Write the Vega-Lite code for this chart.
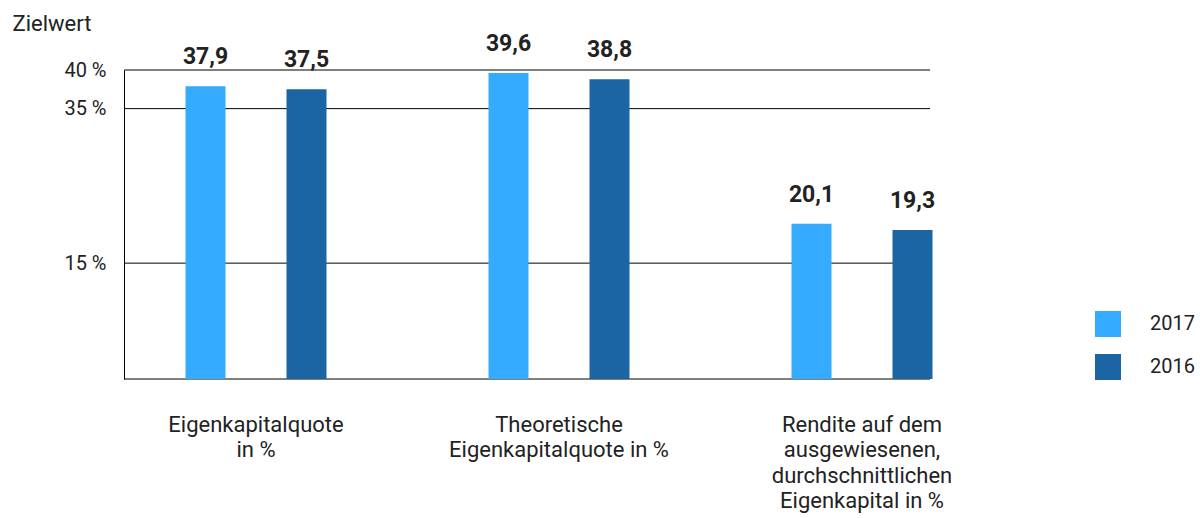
{
  "$schema": "https://vega.github.io/schema/vega-lite/v6.json",
  "width": 806,
  "height": 309,
  "autosize": "none",
  "padding": {"left": 124, "top": 70, "right": 270, "bottom": 139},
  "config": {
    "view": {"stroke": null},
    "font": "Roboto",
    "locale": {"number": {"decimal": ",", "thousands": ".", "grouping": [3], "currency": ["", " €"]}}
  },
  "datasets": {
    "werte": [
      {"kennzahl": "Eigenkapitalquote|in %", "jahr": "2017", "wert": 37.9},
      {"kennzahl": "Eigenkapitalquote|in %", "jahr": "2016", "wert": 37.5},
      {"kennzahl": "Theoretische|Eigenkapitalquote in %", "jahr": "2017", "wert": 39.6},
      {"kennzahl": "Theoretische|Eigenkapitalquote in %", "jahr": "2016", "wert": 38.8},
      {"kennzahl": "Rendite auf dem|ausgewiesenen,|durchschnittlichen|Eigenkapital in %", "jahr": "2017", "wert": 20.1},
      {"kennzahl": "Rendite auf dem|ausgewiesenen,|durchschnittlichen|Eigenkapital in %", "jahr": "2016", "wert": 19.3}
    ],
    "linien": [
      {"wert": 0},
      {"wert": 15},
      {"wert": 35},
      {"wert": 40}
    ]
  },
  "layer": [
    {
      "data": {"name": "linien"},
      "mark": {"type": "rule", "color": "#000000", "strokeWidth": 1},
      "encoding": {
        "y": {
          "field": "wert",
          "type": "quantitative",
          "scale": {"domain": [0, 40], "nice": false, "zero": true},
          "axis": {
            "values": [0, 15, 35, 40],
            "grid": false,
            "domain": true,
            "domainColor": "#000000",
            "domainWidth": 1,
            "ticks": false,
            "labelExpr": "datum.value == 0 ? '' : datum.value + ' %'",
            "labelFontSize": 20,
            "labelColor": "#222222",
            "labelPadding": 18,
            "title": "Zielwert",
            "titleAngle": 0,
            "titleX": -112,
            "titleY": -40,
            "titleAlign": "left",
            "titleBaseline": "alphabetic",
            "titleFontSize": 22,
            "titleFontWeight": "normal",
            "titleColor": "#222222"
          }
        }
      }
    },
    {
      "data": {"name": "werte"},
      "encoding": {
        "x": {
          "field": "kennzahl",
          "type": "nominal",
          "sort": null,
          "scale": {"type": "band", "range": [-19.5, 889.5], "paddingInner": 0, "paddingOuter": 0},
          "axis": {
            "title": null,
            "domain": false,
            "ticks": false,
            "grid": false,
            "labelAngle": 0,
            "labelExpr": "split(datum.label, '|')",
            "labelFontSize": 22,
            "labelLineHeight": 25.5,
            "labelPadding": 35,
            "labelBaseline": "top",
            "labelColor": "#222222",
            "labelLimit": 400,
            "labelOverlap": false
          }
        },
        "xOffset": {
          "field": "jahr",
          "type": "nominal",
          "sort": ["2017", "2016"],
          "scale": {"range": [50.5, 252.5], "paddingInner": 0, "paddingOuter": 0}
        },
        "y": {"field": "wert", "type": "quantitative"}
      },
      "layer": [
        {
          "mark": {"type": "bar", "width": 40},
          "encoding": {
            "color": {
              "field": "jahr",
              "type": "nominal",
              "scale": {"domain": ["2017", "2016"], "range": ["#35abff", "#1b65a4"]},
              "legend": {
                "orient": "none",
                "legendX": 971,
                "legendY": 241,
                "title": null,
                "symbolType": "square",
                "symbolSize": 676,
                "symbolStrokeWidth": 0,
                "symbolOpacity": 1,
                "labelFontSize": 20,
                "labelColor": "#222222",
                "labelOffset": 29,
                "rowPadding": 17,
                "padding": 0
              }
            }
          }
        },
        {
          "mark": {"type": "text", "dy": -29, "fontSize": 23, "fontWeight": "bold", "color": "#222222", "baseline": "middle"},
          "encoding": {
            "text": {"field": "wert", "type": "quantitative", "format": ".1f"}
          }
        }
      ]
    }
  ]
}
